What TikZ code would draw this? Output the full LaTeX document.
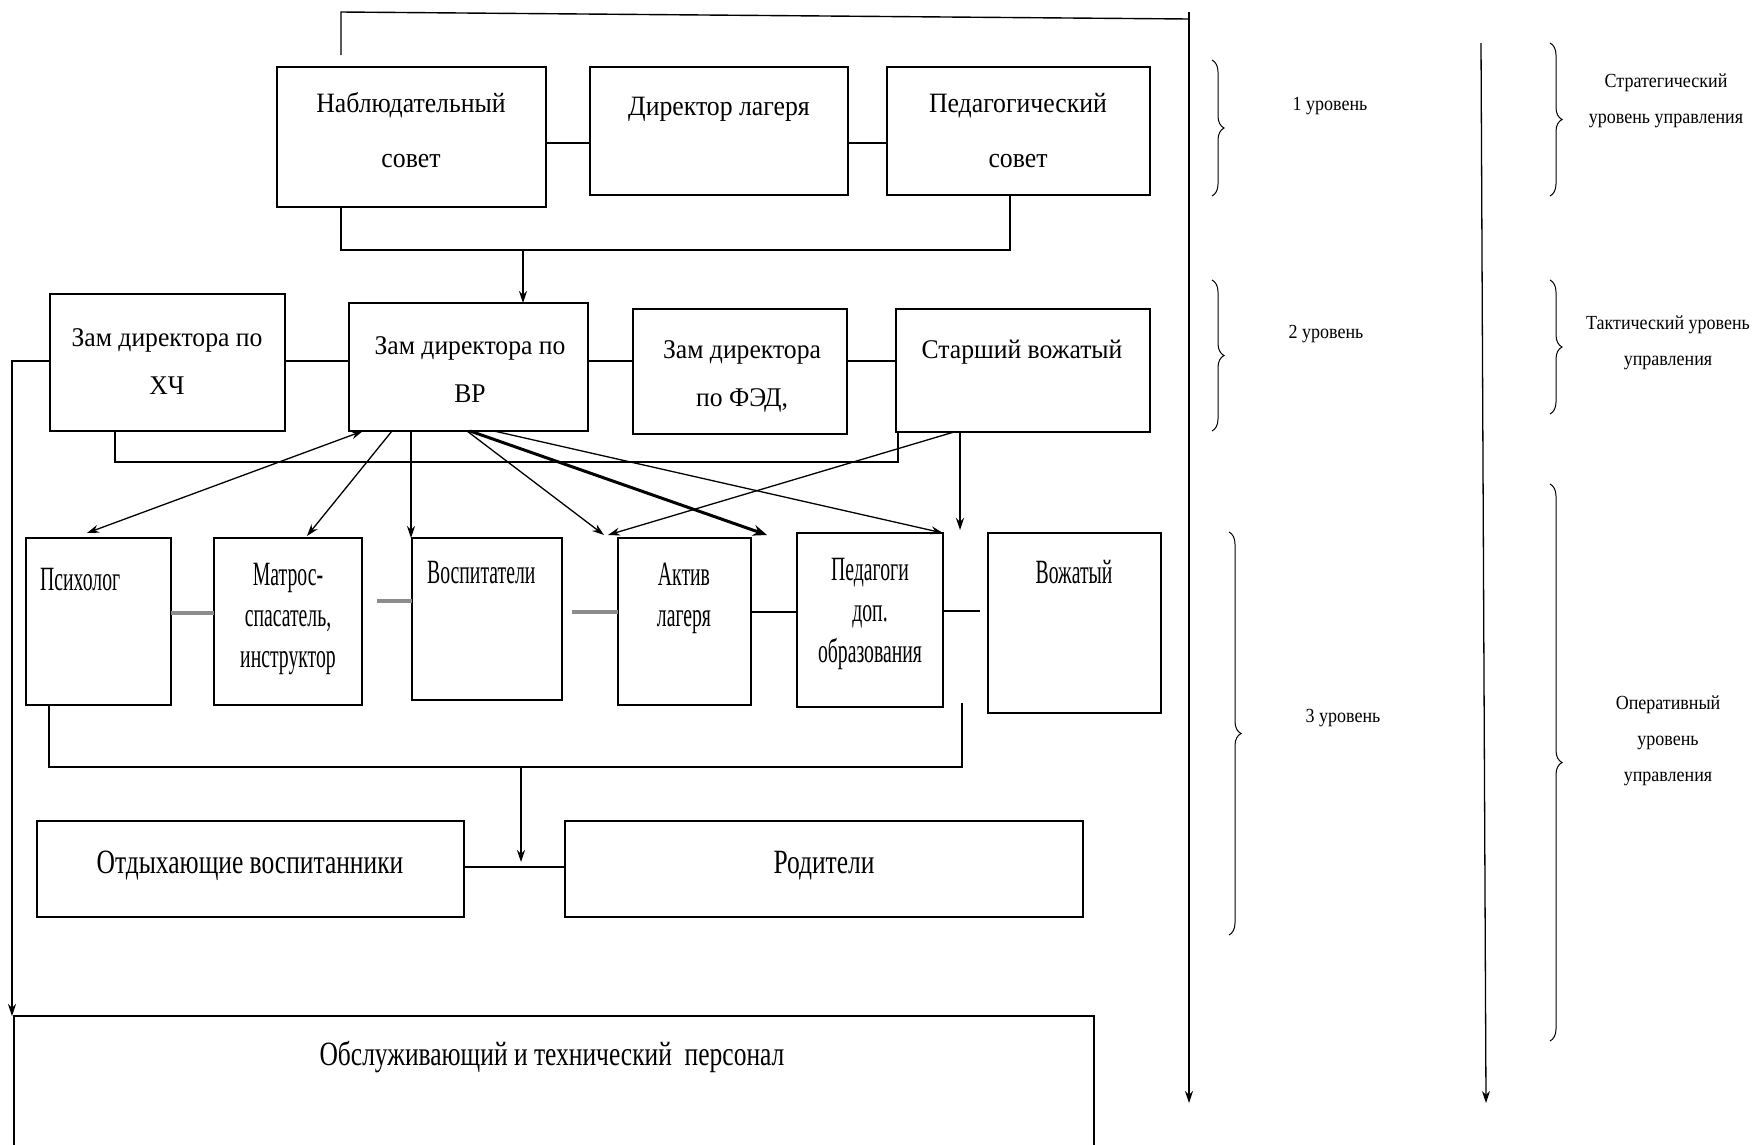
\documentclass[tikz,border=0pt]{standalone}
\usepackage{fontspec}
\setmainfont{Liberation Serif}
\newfontfamily\fA[FakeStretch=0.92]{Liberation Serif}
\newfontfamily\fB[FakeStretch=0.95]{Liberation Serif}
\newfontfamily\fC[FakeStretch=0.58]{Liberation Serif}
\newfontfamily\fD[FakeStretch=0.75]{Liberation Serif}
\newfontfamily\fR[FakeStretch=0.9]{Liberation Serif}
\usetikzlibrary{arrows.meta,decorations.pathreplacing}
\newcommand{\mkbox}[5]{\node[box, minimum width={(#4)-(#2)}, minimum height={(#5)-(#3)}] (#1) at ({((#2)+(#4))/2},{((#3)+(#5))/2}) {};}
\begin{document}
\begin{tikzpicture}[x=1pt,y=-1pt,
  box/.style={draw, line width=1.8pt, inner sep=0pt, outer sep=0pt},
  ln/.style={line width=1.4pt},
  gln/.style={line width=3.5pt, draw=black!45},
  arr/.style={line width=1.3pt, -{Stealth[length=12pt,width=8pt]}},
  darr/.style={line width=1.3pt, {Stealth[length=12pt,width=8pt]}-{Stealth[length=12pt,width=8pt]}},
  tarr/.style={line width=3pt, -{Stealth[length=14pt,width=11pt]}},
  brc/.style={decorate, decoration={brace, amplitude=12pt}, line width=1pt},
  t1/.style={font=\fA\fontsize{28}{55}\selectfont, align=center, inner sep=0pt, anchor=base},
  t2/.style={font=\fB\fontsize{27}{48}\selectfont, align=center, inner sep=0pt, anchor=base},
  t3/.style={font=\fC\fontsize{34}{41}\selectfont, align=center, inner sep=0pt, anchor=base},
  t4/.style={font=\fD\fontsize{34}{40}\selectfont, align=center, inner sep=0pt, anchor=base},
  tr/.style={font=\fR\fontsize{20}{36}\selectfont, align=center, inner sep=0pt, anchor=base}]
\clip (0,0) rectangle (1755,1144);
\fill[white] (0,0) rectangle (1755,1144);

% boxes
\mkbox{nab}{277}{67}{546}{207}
\mkbox{dir}{590}{67}{848}{195}
\mkbox{ped}{887}{67}{1150}{195}
\mkbox{hch}{50}{294}{285}{431}
\mkbox{vr}{349}{303}{588}{431}
\mkbox{fed}{633}{309}{847}{434}
\mkbox{st}{896}{309}{1150}{432}
\mkbox{psy}{26}{538}{171}{705}
\mkbox{mat}{214}{538}{362}{705}
\mkbox{vos}{412}{538}{562}{700}
\mkbox{akt}{618}{538}{751}{705}
\mkbox{pdo}{797}{533}{943}{707}
\mkbox{voz}{988}{533}{1161}{713}
\mkbox{otd}{37}{821}{464}{917}
\mkbox{rod}{565}{821}{1083}{917}
\mkbox{obs}{14}{1016}{1094}{1180}

% texts (anchor = baseline of last line)
\node[t1] (tnab) at (411,167) {Наблюдательный\\совет};
\node[t1] (tdir) at (719,115) {Директор лагеря};
\node[t1] (tped) at (1018,167) {Педагогический\\совет};
\node[t2] (thch) at (167,394) {Зам директора по\\ХЧ};
\node[t2] (tvr) at (470,402) {Зам директора по\\ВР};
\node[t2] (tfed) at (742,406) {Зам директора\\по ФЭД,};
\node[t2] (tst) at (1022,358) {Старший вожатый};
\node[t3, anchor=base west] (tpsy) at (40,590) {Психолог};
\node[t3] (tmat) at (288,667) {Матрос-\\спасатель,\\инструктор};
\node[t3, anchor=base west] (tvos) at (427,583) {Воспитатели};
\node[t3] (takt) at (684,626) {Актив\\лагеря};
\node[t3] (tpdo) at (870,662) {Педагоги\\доп.\\образования};
\node[t3] (tvoz) at (1074,583) {Вожатый};
\node[t4] (totd) at (250,873) {Отдыхающие воспитанники};
\node[t4] (trod) at (824,873) {Родители};
\node[t4] (tobs) at (552,1065) {Обслуживающий и технический\ \ персонал};
\node[tr] (l1) at (1330,110) {1 уровень};
\node[tr] (l2) at (1326,338) {2 уровень};
\node[tr] (l3) at (1343,722) {3 уровень};
\node[tr] (m1) at (1666,123) {Стратегический\\уровень управления};
\node[tr] (m2) at (1668,365) {Тактический уровень\\управления};
\node[tr] (m3) at (1668,781) {Оперативный\\уровень\\управления};

% braces
\draw[brc] (1212,60) -- (1212,196);
\draw[brc] (1212,280) -- (1212,431);
\draw[brc] (1229,532) -- (1229,935);
\draw[brc] (1550,43) -- (1550,196);
\draw[brc] (1550,280) -- (1550,414);
\draw[brc] (1550,484) -- (1550,1041);

% top loop and right vertical
\coordinate (tl) at (341,55);
\coordinate (rtop) at (1189,12);
\coordinate (rbot) at (1189,1103);
\draw[ln] (tl) -- (341,12) -- (1189,19);
\draw[arr] (rtop) -- (rbot);
\coordinate (vtop) at (1481,43);
\coordinate (vbot) at (1486,1103);
\draw[arr] (vtop) -- (vbot);

% level 1
\draw[ln] (nab.east |- 0,143) -- (dir.west |- 0,143);
\draw[ln] (dir.east |- 0,143) -- (ped.west |- 0,143);
\draw[ln] (nab.south -| 341,0) -- (341,250) -- (1010,250) -- (ped.south -| 1010,0);
\draw[arr] (523,250) -- (vr.north -| 523,0);

% level 2
\draw[ln] (hch.east |- 0,361) -- (vr.west |- 0,361);
\draw[ln] (vr.east |- 0,361) -- (fed.west |- 0,361);
\draw[ln] (fed.east |- 0,361) -- (st.west |- 0,361);
\draw[arr] (hch.west |- 0,361) -- (12,361) -- (obs.north -| 12,0);
\draw[ln] (hch.south -| 115,0) -- (115,462) -- (898,462) -- (st.south -| 898,0);

% arrows to level 3
\draw[darr] (vr.south -| 363,0) -- (87,533);
\draw[arr] (vr.south -| 392,0) -- (307,536);
\draw[arr] (vr.south -| 411,0) -- (vos.north -| 411,0);
\draw[arr] (vr.south -| 467,0) -- (604,535);
\draw[tarr] (vr.south -| 470,0) -- (767,535);
\draw[arr] (vr.south -| 494,0) -- (pdo.north east);
\draw[arr] (st.south -| 954,0) -- (608,535);
\draw[arr] (st.south -| 960,0) -- (960,530);

% level 3 connectors
\draw[gln] (psy.east |- 0,613) -- (mat.west |- 0,613);
\draw[gln, shorten <=15pt] (mat.east |- 0,601) -- (vos.west |- 0,601);
\draw[gln, shorten <=10pt] (vos.east |- 0,612) -- (akt.west |- 0,612);
\draw[ln] (akt.east |- 0,612) -- (pdo.west |- 0,612);
\draw[ln, shorten >=8pt] (pdo.east |- 0,611) -- (voz.west |- 0,611);
\draw[ln] (psy.south -| 49,0) -- (49,767) -- (962,767) -- (962,703);
\draw[arr] (521,767) -- (521,862);
\draw[ln] (otd.east |- 0,867) -- (rod.west |- 0,867);
\end{tikzpicture}
\end{document}
